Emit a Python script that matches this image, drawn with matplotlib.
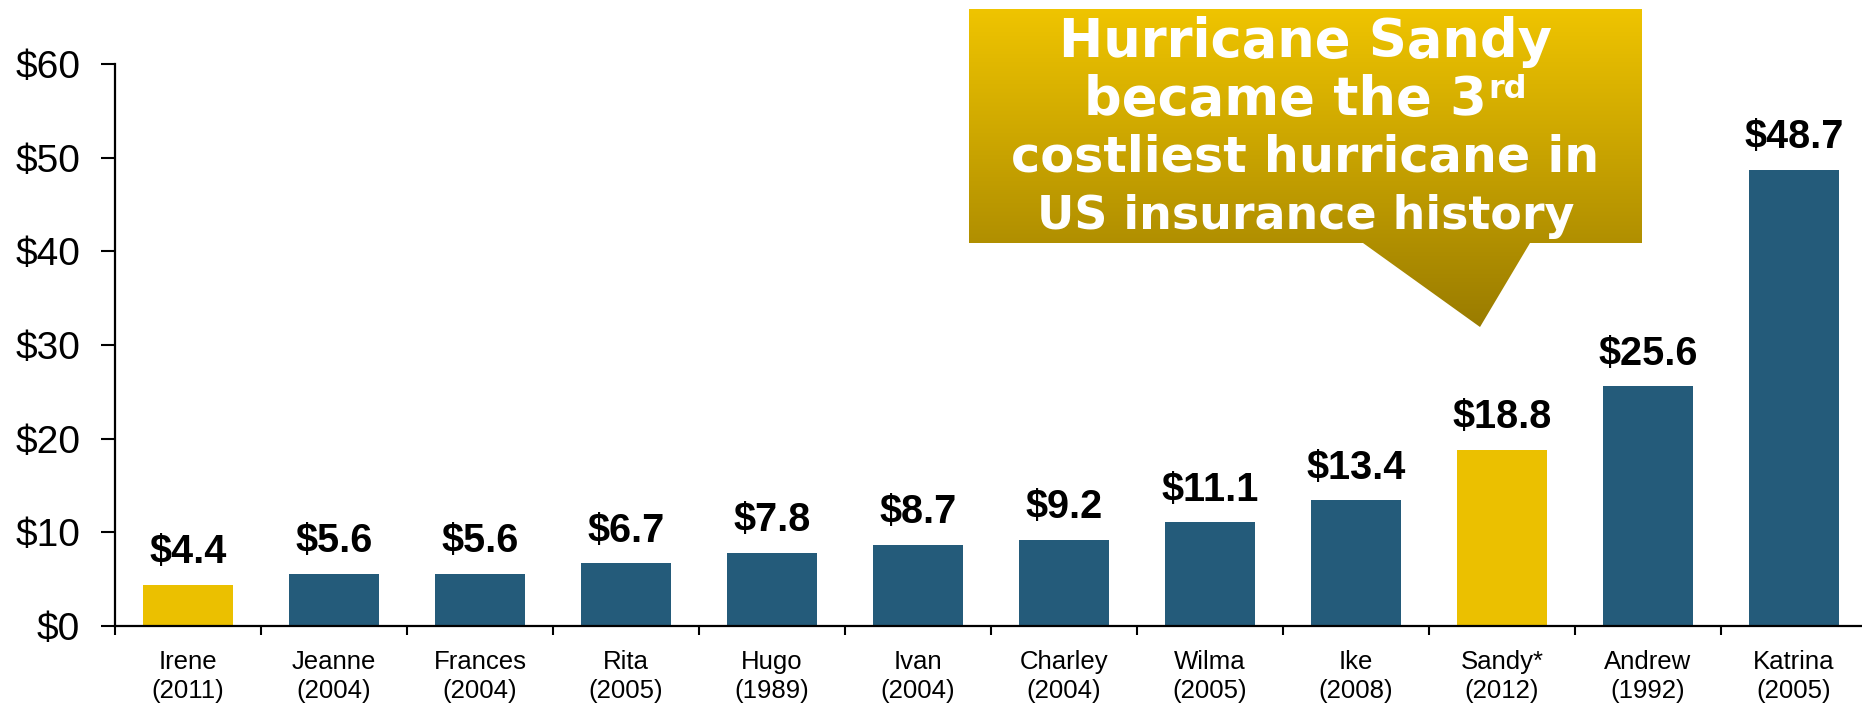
#!/usr/bin/env python3
"""
Costliest hurricanes in US insurance history (insured losses, $ billions).

Draws a bar chart of the twelve storms with bold value labels over each bar,
Irene and Sandy picked out in gold, and a gold speech-bubble callout for Sandy.

Output:
  - out.png
"""

import matplotlib

matplotlib.use("Agg")
import matplotlib.pyplot as plt
import numpy as np
from matplotlib.colors import LinearSegmentedColormap
from matplotlib.patches import Polygon

# Chart data
STORMS = ["Irene", "Jeanne", "Frances", "Rita", "Hugo", "Ivan",
          "Charley", "Wilma", "Ike", "Sandy*", "Andrew", "Katrina"]
YEARS = ["2011", "2004", "2004", "2005", "1989", "2004",
         "2004", "2005", "2008", "2012", "1992", "2005"]
LOSSES = [4.4, 5.6, 5.6, 6.7, 7.8, 8.7, 9.2, 11.1, 13.4, 18.8, 25.6, 48.7]
HIGHLIGHT = ["Irene", "Sandy*"]
Y_TICKS = [0, 10, 20, 30, 40, 50, 60]

CALLOUT_LINES = ["Hurricane Sandy", "became the 3", "costliest hurricane in",
                 "US insurance history"]
CALLOUT_SUP = "rd"

# Styling
BLUE = "#245b7a"
GOLD = "#ebc000"
GRAD_TOP = "#efc400"
GRAD_BOTTOM = "#9a7c00"
FONT = ["Liberation Sans", "DejaVu Sans"]
CALLOUT_FONT = ["DejaVu Sans"]
CALLOUT_SIZES = [38, 38, 35.5, 33]

W, H, DPI = 1862, 705, 100


def draw_bars(fig):
    """Main bar chart, placed in figure pixels."""
    x0, x1, y_zero, y_top = 115, 115 + 12 * 146, 626, 64
    ax = fig.add_axes([x0 / W, (H - y_zero) / H, (x1 - x0) / W, (y_zero - y_top) / H])

    x = np.arange(len(STORMS))
    colors = [GOLD if s in HIGHLIGHT else BLUE for s in STORMS]
    ax.bar(x, LOSSES, width=0.62, color=colors, zorder=2)

    for xi, v in zip(x, LOSSES):
        ax.annotate(f"\\${v:.1f}", (xi, v), xytext=(0, 15.5), textcoords="offset points",
                    ha="center", va="baseline", fontsize=28.5, fontweight="bold",
                    family=FONT, color="black", annotation_clip=False)

    ax.set_xlim(-0.5, len(STORMS) - 0.5)
    ax.set_ylim(0, 60)

    for side in ("top", "right"):
        ax.spines[side].set_visible(False)
    for side in ("left", "bottom"):
        ax.spines[side].set_linewidth(1.6)
        ax.spines[side].set_color("black")

    ax.set_yticks(Y_TICKS)
    ax.set_yticklabels([f"\\${v}" for v in Y_TICKS], family=FONT, fontsize=28)
    ax.tick_params(axis="y", length=10, width=1.5, pad=15, colors="black")

    # category labels at bar centres, tick marks on the boundaries
    ax.set_xticks(x)
    ax.set_xticklabels([f"{s}\n({y})" for s, y in zip(STORMS, YEARS)],
                       family=FONT, fontsize=18.5, linespacing=1.3)
    ax.tick_params(axis="x", which="major", length=0, pad=17, colors="black")
    ax.set_xticks(np.arange(len(STORMS) + 1) - 0.5, minor=True)
    ax.tick_params(axis="x", which="minor", length=6.5, width=1.5, direction="out")
    return ax


def draw_callout(fig):
    """Gold gradient speech bubble pointing down at Sandy."""
    ax = fig.add_axes([0, 0, 1, 1], zorder=5)
    ax.set_xlim(0, W)
    ax.set_ylim(H, 0)
    ax.axis("off")
    ax.patch.set_alpha(0)

    left, right, top, bottom = 969, 1642, 9, 243
    tip = (1480, 327)
    outline = [(left, top), (right, top), (right, bottom), (1530, bottom),
               tip, (1363, bottom), (left, bottom)]
    bubble = Polygon(outline, closed=True, facecolor="none", edgecolor="none")
    ax.add_patch(bubble)

    cmap = LinearSegmentedColormap.from_list("bubble", [GRAD_TOP, GRAD_BOTTOM])
    grad = np.linspace(0, 1, 256).reshape(-1, 1)
    im = ax.imshow(grad, extent=(left, right, tip[1], top), origin="upper",
                   aspect="auto", cmap=cmap, interpolation="bilinear")
    im.set_clip_path(bubble)

    cx = (left + right) / 2
    baselines = [57, 115, 172, 229]
    texts = []
    for line, yb, size in zip(CALLOUT_LINES, baselines, CALLOUT_SIZES):
        texts.append(ax.text(cx, yb, line, ha="center", va="baseline", color="white",
                             fontweight="bold", family=CALLOUT_FONT, fontsize=size))

    # "3rd": shift the second line left so line + superscript stay centred
    sup = ax.text(cx, baselines[1] - 17, CALLOUT_SUP, ha="left", color="white",
                  fontweight="bold", family=CALLOUT_FONT, fontsize=23, va="baseline")
    renderer = fig.canvas.get_renderer()
    w_main = texts[1].get_window_extent(renderer).width
    w_sup = sup.get_window_extent(renderer).width
    start = cx - (w_main + w_sup + 2) / 2
    texts[1].set_ha("left")
    texts[1].set_x(start)
    sup.set_x(start + w_main + 2)


def main():
    fig = plt.figure(figsize=(W / DPI, H / DPI), dpi=DPI, facecolor="white")
    draw_bars(fig)
    draw_callout(fig)
    fig.savefig("out.png", dpi=DPI, facecolor="white")
    plt.close(fig)


if __name__ == "__main__":
    main()
